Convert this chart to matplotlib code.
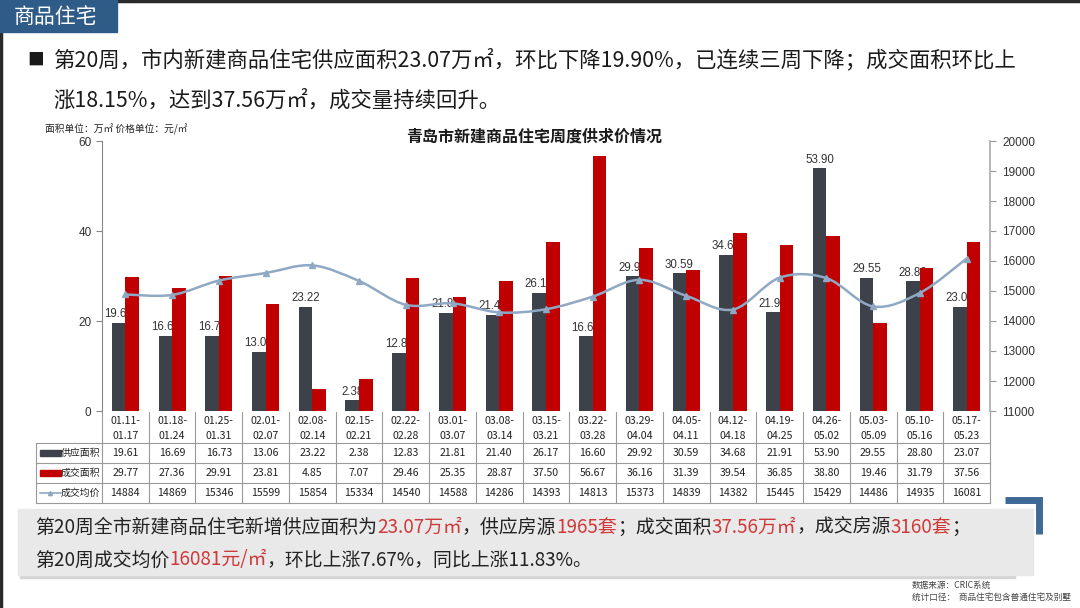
import numpy as np
import matplotlib
matplotlib.use("Agg")
import matplotlib.pyplot as plt
from matplotlib.path import Path
from matplotlib.patches import PathPatch, Rectangle
from matplotlib.lines import Line2D
import matplotlib.transforms as mtransforms

plt.rcParams['font.family'] = ['Noto Sans CJK SC', 'DejaVu Sans']

# ---- data ----
weeks_start = ["01.11", "01.18", "01.25", "02.01", "02.08", "02.15", "02.22", "03.01", "03.08", "03.15",
               "03.22", "03.29", "04.05", "04.12", "04.19", "04.26", "05.03", "05.10", "05.17"]
weeks_end = ["01.17", "01.24", "01.31", "02.07", "02.14", "02.21", "02.28", "03.07", "03.14", "03.21",
             "03.28", "04.04", "04.11", "04.18", "04.25", "05.02", "05.09", "05.16", "05.23"]
supply = [19.61, 16.69, 16.73, 13.06, 23.22, 2.38, 12.83, 21.81, 21.40, 26.17,
          16.60, 29.92, 30.59, 34.68, 21.91, 53.90, 29.55, 28.80, 23.07]
deal = [29.77, 27.36, 29.91, 23.81, 4.85, 7.07, 29.46, 25.35, 28.87, 37.50,
        56.67, 36.16, 31.39, 39.54, 36.85, 38.80, 19.46, 31.79, 37.56]
price = [14884, 14869, 15346, 15599, 15854, 15334, 14540, 14588, 14286, 14393,
         14813, 15373, 14839, 14382, 15445, 15429, 14486, 14935, 16081]
series_names = ["供应面积", "成交面积", "成交均价"]

C_SUP = "#3d4149"
C_DEAL = "#c00000"
C_LINE = "#8fa9c4"
C_RED_TXT = "#d0393a"

W, H = 1080, 608
fig = plt.figure(figsize=(W / 100, H / 100), dpi=100)
fig.patch.set_facecolor("white")


def fx(px):
    return px / W


def fy(py):
    return 1 - py / H


# frame lines of the screenshot
fig.add_artist(Line2D([0, 1], [fy(1), fy(1)], color="#2a2a2a", lw=2.5))
fig.add_artist(Line2D([fx(1), fx(1)], [0, 1], color="#2a2a2a", lw=2.5))

# header block
fig.add_artist(Rectangle((0, fy(32)), fx(117), fy(0) - fy(32), color="#2f5b88", zorder=3))
fig.text(fx(14), fy(17), "商品住宅", color="white", fontsize=15, va="center", ha="left", zorder=4)

# bullet text
fig.text(fx(27), fy(60), "■", fontsize=12, va="center", color="#1a1a1a")
fig.text(fx(53), fy(60), "第20周，市内新建商品住宅供应面积23.07万㎡，环比下降19.90%，已连续三周下降；成交面积环比上",
         fontsize=15.4, va="center", color="#1a1a1a")
fig.text(fx(53), fy(101), "涨18.15%，达到37.56万㎡，成交量持续回升。",
         fontsize=15.4, va="center", color="#1a1a1a")

# ---- main chart ----
ax = fig.add_axes([fx(102), fy(411), fx(990) - fx(102), fy(141) - fy(411)])
ax2 = ax.twinx()
n = len(supply)
x = np.arange(n)
bw = 0.29

ax.bar(x - bw / 2, supply, bw, color=C_SUP, zorder=2)
for xi, v in zip(x, supply):
    ax.annotate(f"{v:.2f}", (xi - bw / 2, v), xytext=(0, 2), textcoords="offset points",
                ha="center", va="bottom", fontsize=8.3, color="#333333",
                family=["Liberation Sans", "DejaVu Sans"], zorder=2.5)
ax.bar(x + bw / 2, deal, bw, color=C_DEAL, zorder=3)

ax.set_xlim(-0.5, n - 0.5)
ax.set_ylim(0, 60)
ax.set_yticks([0, 20, 40, 60])
ax.set_xticks([])
ax2.set_ylim(11000, 20000)
ax2.set_yticks(np.arange(11000, 20001, 1000))

# smooth price line (bezier through the weekly points)
pts = np.column_stack([x, price]).astype(float)
verts = [tuple(pts[0])]
codes = [Path.MOVETO]
for i in range(n - 1):
    p0 = pts[max(i - 1, 0)]
    p1 = pts[i]
    p2 = pts[i + 1]
    p3 = pts[min(i + 2, n - 1)]
    c1 = p1 + (p2 - p0) / 6
    c2 = p2 - (p3 - p1) / 6
    verts += [tuple(c1), tuple(c2), tuple(p2)]
    codes += [Path.CURVE4] * 3
ax2.add_patch(PathPatch(Path(verts, codes), fill=False, edgecolor=C_LINE, lw=1.8, zorder=4))
ax2.plot(x, price, ls="none", marker="^", ms=4, color=C_LINE, zorder=5)
ax.set_zorder(1)
ax2.set_zorder(2)
ax2.patch.set_visible(False)

for a in (ax, ax2):
    for s in a.spines.values():
        s.set_visible(False)
ax.spines["left"].set_visible(True)
ax.spines["left"].set_color("#888888")
ax2.spines["right"].set_visible(True)
ax2.spines["right"].set_color("#aaaaaa")
ax2.spines["right"].set_linewidth(1.2)
ax.tick_params(axis="y", colors="#888888", labelcolor="#333333", length=4, width=0.8)
ax2.tick_params(axis="y", colors="#999999", labelcolor="#333333", length=4, width=0.8, pad=5)
for lab in ax.get_yticklabels() + ax2.get_yticklabels():
    lab.set_fontfamily(["Liberation Sans", "DejaVu Sans"])
    lab.set_fontsize(8.5)

fig.text(fx(534), fy(137), "青岛市新建商品住宅周度供求价情况", fontsize=11.5, fontweight="bold",
         ha="center", va="center", color="#1a1a1a")
fig.text(fx(45), fy(129), "面积单位：万㎡ 价格单位：元/㎡", fontsize=7, ha="left", va="center", color="#222222")

# ---- data table under the chart ----
tr = mtransforms.blended_transform_factory(ax.transData, fig.transFigure)
grid_c = "#9a9a9a"
row_y = [412, 443, 463, 483, 503]
for b in np.arange(n + 1) - 0.5:
    fig.add_artist(Line2D([b, b], [fy(row_y[0]), fy(row_y[-1])], transform=tr, color=grid_c, lw=0.8))
for yy in row_y[1:]:
    fig.add_artist(Line2D([fx(36), fx(990)], [fy(yy), fy(yy)], color=grid_c, lw=0.8))
fig.add_artist(Line2D([fx(36), fx(36)], [fy(row_y[1]), fy(row_y[-1])], color=grid_c, lw=0.8))

tbl_font = 7.6
for i in range(n):
    fig.text(i, fy(421), weeks_start[i] + "-", transform=tr, ha="center", va="center",
             fontsize=tbl_font, color="#222222")
    fig.text(i, fy(436), weeks_end[i], transform=tr, ha="center", va="center",
             fontsize=tbl_font, color="#222222")
    fig.text(i, fy(453), f"{supply[i]:.2f}", transform=tr, ha="center", va="center",
             fontsize=tbl_font, color="#222222")
    fig.text(i, fy(473), f"{deal[i]:.2f}", transform=tr, ha="center", va="center",
             fontsize=tbl_font, color="#222222")
    fig.text(i, fy(493), f"{price[i]}", transform=tr, ha="center", va="center",
             fontsize=tbl_font, color="#222222")

# legend keys in the first column
for yy, col in [(453, C_SUP), (473, C_DEAL)]:
    fig.add_artist(Rectangle((fx(40), fy(yy + 3)), fx(21), fy(yy - 3) - fy(yy + 3), color=col))
fig.add_artist(Line2D([fx(40), fx(61)], [fy(493), fy(493)], color=C_LINE, lw=1.2))
fig.add_artist(Line2D([fx(50)], [fy(493)], marker="^", ms=3, color=C_LINE))
for yy, name in zip([453, 473, 493], series_names):
    fig.text(fx(61), fy(yy), name, fontsize=7.1, ha="left", va="center", color="#222222")

# ---- summary box ----
fig.add_artist(Rectangle((fx(20), fy(578)), fx(1015) - fx(20), fy(511) - fy(578), color="#d4d4d4", zorder=1))
fig.add_artist(Rectangle((fx(18), fy(575)), fx(1033) - fx(18), fy(509) - fy(575), color="#e9e9e9", zorder=2))
# blue corner bracket
fig.add_artist(Line2D([fx(1005), fx(1039), fx(1039)], [fy(500), fy(500), fy(534)],
                      color="#3f6a96", lw=5, solid_capstyle="butt", solid_joinstyle="miter", zorder=3))

renderer = fig.canvas.get_renderer()


def rich_line(x0, y0, parts, size):
    xp = fx(x0)
    for s, c in parts:
        t = fig.text(xp, fy(y0), s, color=c, fontsize=size, ha="left", va="center", zorder=4)
        bb = t.get_window_extent(renderer=renderer)
        xp = bb.x1 / W


dark = "#222222"
rich_line(35, 527, [("第20周全市新建商品住宅新增供应面积为", dark), ("23.07万㎡", C_RED_TXT),
                    ("，供应房源", dark), ("1965套", C_RED_TXT), ("；成交面积", dark),
                    ("37.56万㎡", C_RED_TXT), ("，成交房源", dark), ("3160套", C_RED_TXT), ("；", dark)], 13.6)
rich_line(35, 560, [("第20周成交均价", dark), ("16081元/㎡", C_RED_TXT),
                    ("，环比上涨7.67%，同比上涨11.83%。", dark)], 13.6)

# footer
fig.text(fx(912), fy(585), "数据来源：CRIC系统", fontsize=6.2, color="#444444", ha="left", va="center")
fig.text(fx(912), fy(597), "统计口径：  商品住宅包含普通住宅及别墅", fontsize=6.2, color="#444444", ha="left", va="center")

fig.savefig("out.png", dpi=100, facecolor="white")
